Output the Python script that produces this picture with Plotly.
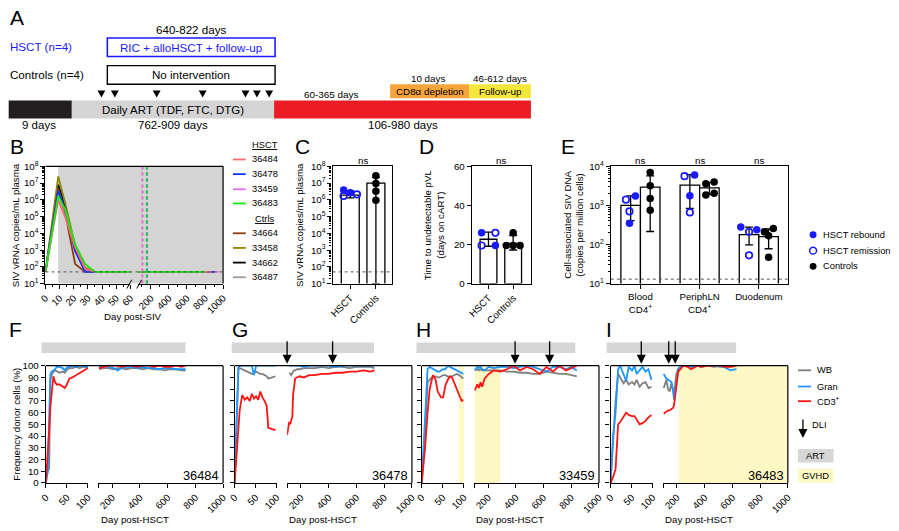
import plotly.graph_objects as go

W, H = 899, 531
FONT = "Arial, 'Liberation Sans', Helvetica, sans-serif"
BLUE = "#1a1aff"
WB_C, GRAN_C, CD3_C = "#7f7f7f", "#1e96ff", "#ff1414"
ART_GRAY = "#d6d6d6"
GVHD_YEL = "#fdf8c4"
FS = 9.7      # tick labels / axis titles
FS_LEG = 9.3  # legend texts

# ── B: plasma viral load per animal ──────────────────────────────────────────
B_IDS = ["36484", "36478", "33459", "36483", "34664", "33458", "34662", "36487"]
B_COLORS = ["#ff6b6b", "#1433ff", "#e26cf4", "#19e619", "#8a3c0c", "#8d8600", "#000000", "#9c9c9c"]
B_DAYS = [0, 9, 14, 21, 28, 35, 60]
VL_36484 = [50, 1.0e6, 9.0e4, 1500, 80, 50, 50]
VL_36478 = [50, 3.5e6, 2.5e5, 900, 50, 50, 50]
VL_33459 = [50, 2.5e6, 2.0e5, 1200, 60, 50, 50]
VL_36483 = [50, 1.8e6, 2.5e5, 2200, 150, 50, 50]
VL_34664 = [50, 5.0e6, 1.5e5, 150, 50, 50, 50]
VL_33458 = [50, 2.5e7, 6.0e5, 1800, 90, 50, 50]
VL_34662 = [50, 8.0e6, 4.0e5, 1300, 70, 50, 50]
VL_36487 = [50, 3.0e6, 2.0e5, 800, 60, 50, 50]
B_LAST_DAY = [870, 900, 950, 800, 760, 780, 790, 770]
B_LOD = 50
B_HSCT_DAY = [105, 156, 108, 152]

# ── C: peak viral load ───────────────────────────────────────────────────────
GROUPS = ["HSCT", "Controls"]
C_MEAN = [1.9e6, 1.0e7]
C_HI = [3.4e6, 2.2e7]
C_LO = [1.3e6, 10]
C_HSCT = [3.8e6, 2.65e6, 1.7e6, 2.1e6]
C_HSCT_REBOUND = [1, 1, 0, 0]
C_HSCT_JIT = [-0.26, 0.0, -0.26, 0.26]
C_CTRL = [2.7e7, 9.5e6, 3.3e6, 9.5e5]

# ── D: time to undetectable ──────────────────────────────────────────────────
D_MEAN = [22.7, 20.6]
D_HI = [26.3, 24.6]
D_LO = [19.1, 17.2]
D_HSCT = [26, 26, 19.5, 19.5]
D_HSCT_REBOUND = [1, 0, 0, 1]
D_HSCT_JIT = [-0.28, 0.28, -0.28, 0.28]
D_CTRL = [26, 19.5, 19.5, 19.5]
D_CTRL_JIT = [0.0, -0.28, 0.0, 0.28]

# ── E: cell-associated SIV DNA ───────────────────────────────────────────────
E_CATS = ["Blood<br>CD4<sup>+</sup>", "PeriphLN<br>CD4<sup>+</sup>", "Duodenum"]
E_HSCT_MEAN = [1000, 3300, 180]
E_HSCT_HI = [1750, 6100, 280]
E_HSCT_LO = [410, 840, 98]
E_CTRL_MEAN = [2950, 2800, 160]
E_CTRL_HI = [5700, 3900, 250]
E_CTRL_LO = [215, 1900, 78]
E_HSCT_CAT = [0, 0, 0, 0, 1, 1, 1, 1, 2, 2, 2, 2]
E_HSCT_VAL = [1750, 1400, 700, 350, 6000, 5600, 1780, 660, 282, 211, 237, 53]
E_HSCT_REBOUND = [1, 0, 0, 1, 1, 0, 1, 0, 1, 0, 1, 0]
E_HSCT_JIT = [0.08, -0.08, -0.02, -0.02, 0.08, -0.09, 0.0, 0.0, -0.14, 0.0, 0.13, 0.0]
E_CTRL_CAT = [0, 0, 0, 0, 1, 1, 1, 1, 2, 2, 2, 2]
E_CTRL_VAL = [7000, 3200, 1500, 750, 3600, 4000, 1850, 2050, 211, 256, 168, 47]
E_CTRL_JIT = [0, 0, 0, 0, -0.06, 0.08, -0.06, 0.08, -0.07, 0.08, 0, 0]
E_LOD = 13

# ── F–I: donor chimerism ─────────────────────────────────────────────────────
F_D1 = [0, 5, 8, 11, 14, 18, 22, 26, 33, 40, 45, 49, 56, 63, 72, 80, 88, 95, 100]
F_WB1 = [0, 12, 12, 88, 92, 95, 96, 95, 94, 95, 94, 96, 98, 98, 99, 98, 99, 99, 98]
F_GR1 = [0, 10, 55, 93, 95, 96, 97, 99, 99, 98, 96, 98, 99, 100, 99, 100, 100, 99, 99]
F_CD1 = [0, 25, 45, 65, 80, 91, 86, 84, 84, 82, 81, 83, 89, 90, 92, 94, 96, 97, 98]
F_D2 = [105, 140, 175, 210, 240, 270, 300, 340, 380, 420, 460, 500, 540, 580, 620, 660, 700, 730]
F_WB2 = [97, 98, 98, 97, 98, 98, 97, 98, 98, 97, 98, 97, 97, 96, 97, 97, 96, 96]
F_GR2 = [99, 100, 99, 98, 96, 98, 99, 99, 98, 99, 98, 98, 97, 98, 98, 97, 97, 97]
F_CD2 = [98, 99, 100, 100, 100, 99, 100, 100, 99, 100, 100, 99, 100, 99, 99, 100, 99, 100]

G_D1 = [0, 6, 9, 12, 18, 24, 30, 36, 41, 46, 51, 56, 61, 66, 71, 76, 80, 88, 97]
G_WB1 = [0, 60, 97, 98, 97, 96, 95, 94, 93, 94, 95, 94, 93, 93, 92, 91, 89, 90, 91]
G_GR1 = [0, 70, 99, 100, 100, 100, 100, 100, 100, 92, 100, 100, 100, 100, 100, 100, 100, 100, 100]
G_CD1 = [0, 30, 50, 62, 75, 71, 73, 70, 76, 72, 74, 71, 78, 73, 70, 66, 47, 46, 45]
G_D2 = [100, 108, 115, 122, 130, 138, 143, 150, 158, 170, 190, 220, 260, 300, 350, 400, 450, 500, 550, 600, 650, 700, 730]
G_WB2 = [None, None, 94, 93, 92, 94, 95, 96, 96, 97, 97, 98, 98, 98, 99, 98, 99, 99, 98, 99, 99, 99, 98]
G_GR2 = [None, None, 100, 100, 100, 100, 100, 100, 100, 100, 100, 99, 100, 100, 100, 100, 99, 100, 100, 100, 100, 100, 100]
G_CD2 = [41, 48, 52, 50, 55, 57, 75, 81, 89, 90, 91, 90, 92, 92, 93, 93, 94, 94, 95, 95, 96, 95, 96]

H_D1 = [0, 8, 14, 19, 24, 27, 30, 33, 38, 42, 46, 51, 56, 62, 67, 72, 77, 83, 89, 95, 99]
H_WB1 = [0, 40, 86, 88, 90, 90, 90, 91, 90, 90, 91, 92, 92, 91, 90, 91, 92, 93, 92, 90, 89]
H_GR1 = [0, 60, 97, 99, 98, 97, 97, 96, 95, 95, 96, 97, 97, 100, 99, 98, 97, 96, 95, 94, 93]
H_CD1 = [0, 30, 60, 80, 88, 92, 90, 88, 78, 75, 73, 73, 83, 88, 91, 90, 86, 80, 75, 70, 71]
H_D2 = [104, 123, 134, 146, 158, 175, 205, 241, 288, 336, 383, 431, 478, 525, 573, 621, 668, 715, 763, 800, 840]
H_WB2 = [96, 97, 96, 97, 96, 96, 96, 96, 96, 95, 95, 94, 94, 93, 93, 95, 94, 93, 93, 92, 91]
H_GR2 = [96, 99, 98, 99, 97, 96, 99, 98, 99, 99, 98, 99, 100, 99, 97, 95, 99, 99, 97, 99, 96]
H_CD2 = [79, 84, 81, 86, 82, 89, 93, 96, 95, 97, 100, 96, 99, 97, 93, 99, 95, 100, 96, 98, 100]

I_D1 = [0, 6, 12, 18, 23, 31, 37, 43, 51, 57, 62, 69, 76, 83, 90, 97]
I_WB1 = [0, 40, 70, 93, 90, 85, 88, 84, 86, 84, 88, 82, 85, 86, 81, 82]
I_GR1 = [0, 40, 60, 97, 100, 93, 87, 99, 96, 100, 93, 96, 99, 95, 97, 88]
I_CD1 = [0, 5, 12, 50, 52, 57, 60, 58, 57, 57, 54, 50, 51, 53, 56, 58]
I_D2 = [105, 124, 136, 148, 160, 172, 179, 184, 191, 195, 207, 214, 226, 245, 278, 302, 349, 373, 420, 468, 515, 539, 586, 629]
I_WB2 = [81, 88, 80, 78, 85, 80, 75, 80, 89, 92, 97, 97, 99, 100, 100, 99, 100, 99, 100, 99, 100, 100, 99, 100]
I_GR2 = [93, 89, 88, 87, 86, 80, 71, 75, 81, 85, 96, 98, 99, 100, 100, 99, 100, 99, 100, 100, 99, 99, 96, 97]
I_CD2 = [59, 61, 62, 62, 63, 64, 66, 70, 78, 81, 93, 96, 97, 100, 99, 97, 100, 99, 100, 100, 100, 99, 99, 100]

PANEL_IDS = ["36484", "36478", "33459", "36483"]
DLI_EARLY = [[], [], [], [73]]
DLI_LATE = [[], [100, 428], [395, 644], [141, 188]]
GVHD_EARLY = [None, None, (88, 100), None]
GVHD_LATE = [None, None, (105, 290), (214, 1000)]

# layout of the small-multiples (pixels in the target picture)
PANEL_LEFT = [39.3, 230.7, 420.3, 611.7]
ART_X = [(35, 181), (227.7, 372), (415, 576), (607.7, 739)]


def px(x):
    return x / W


def py(y):
    return 1 - y / H


def axis(x_or_y, a, b, anchor, **kw):
    dom = [px(a), px(b)] if x_or_y == "x" else [py(b), py(a)]
    d = dict(domain=dom, anchor=anchor, showline=True, linecolor="black", linewidth=1.2,
             ticks="outside", ticklen=4, tickwidth=1.1, tickcolor="black",
             showgrid=False, zeroline=False, fixedrange=True,
             tickfont=dict(family=FONT, size=FS, color="black"))
    d.update(kw)
    return d


def log_minor(lo, hi):
    return dict(tickvals=[k * 10 ** e for e in range(lo, hi) for k in range(2, 10)],
                ticks="outside", ticklen=2.2, tickwidth=0.8, tickcolor="black")


def log_ticks(lo, hi):
    return dict(type="log", range=[lo, hi], tickvals=[10 ** e for e in range(lo, hi + 1)],
                ticktext=[f"10<sup>{e}</sup>" for e in range(lo, hi + 1)], minor=log_minor(lo, hi))


annotations = []
shapes = []


def txt(x, y, s, size=FS, anchor="center", color="black", angle=0):
    annotations.append(dict(x=px(x), y=py(y), xref="paper", yref="paper", text=s, showarrow=False,
                            xanchor=anchor, yanchor="middle", textangle=angle, borderpad=0,
                            font=dict(family=FONT, size=size, color=color)))


def rect(x0, y0, x1, y1, fill, line="rgba(0,0,0,0)", lw=0, layer="above"):
    shapes.append(dict(type="rect", xref="paper", yref="paper", x0=px(x0), x1=px(x1),
                       y0=py(y1), y1=py(y0), fillcolor=fill, line=dict(color=line, width=lw), layer=layer))


def seg(x0, y0, x1, y1, color="black", w=1.2, dash="solid"):
    shapes.append(dict(type="line", xref="paper", yref="paper", x0=px(x0), x1=px(x1),
                       y0=py(y0), y1=py(y1), line=dict(color=color, width=w, dash=dash)))


fig = go.Figure()
layout = {}

# ── A: timeline schematic ────────────────────────────────────────────────────
txt(10.5, 11, "A", 21)
txt(186.7, 23.3, "640-822 days", 11.6)
txt(2.5, 40.7, "HSCT (n=4)", 11.6, "left", BLUE)
rect(101.7, 31.7, 271.7, 50.7, "white", BLUE, 1.6)
txt(186.7, 41.2, "RIC + alloHSCT + follow-up", 11.6, color=BLUE)
txt(2.5, 69, "Controls (n=4)", 11.6, "left")
rect(101.7, 60, 271.7, 79, "white", "black", 1.4)
txt(186.7, 69.5, "No intervention", 11.6)
for tx in [95.7, 109.3, 151.7, 198.3, 241.7, 253.3, 265.7]:
    shapes.append(dict(type="path", xref="paper", yref="paper",
                       path=f"M {px(tx - 4)} {py(85.5)} L {px(tx + 4)} {py(85.5)} L {px(tx)} {py(92.5)} Z",
                       fillcolor="black", line=dict(width=0)))
rect(1.7, 95.7, 65.7, 114, "#231f20")
rect(65.7, 95.7, 270.7, 114, "#d4d4d4")
rect(270.7, 95.7, 531, 114, "#ec1c24")
rect(388.3, 79, 468.3, 93.3, "#f7a43d")
rect(468.3, 79, 531, 93.3, "#f4e63a")
txt(168.3, 104.9, "Daily ART (TDF, FTC, DTG)", 11.5)
txt(32.3, 121, "9 days", 11.5)
txt(168.3, 121, "762-909 days", 11.5)
txt(401.7, 121, "106-980 days", 11.5)
txt(328.3, 89.5, "60-365 days", 9.9)
txt(426.7, 72.7, "10 days", 9.8)
txt(428.3, 86.3, "CD8α depletion", 9.8)
txt(500, 72.7, "46-612 days", 9.8)
txt(500, 86.3, "Follow-up", 9.8)

# ── B ────────────────────────────────────────────────────────────────────────
layout["xaxis"] = axis("x", 39, 125, "y", range=[0, 60], tickvals=list(range(0, 61, 10)), tickangle=-45,
                       minor=dict(tickvals=list(range(5, 60, 10)), ticks="outside", ticklen=2.5, tickcolor="black"))
layout["xaxis2"] = axis("x", 133, 219, "y", range=[60, 1000], tickvals=[200, 400, 600, 800, 1000], tickangle=-45,
                        minor=dict(tickvals=[100, 300, 500, 700, 900], ticks="outside", ticklen=2.5, tickcolor="black"))
layout["yaxis"] = axis("y", 163, 283, "x", **log_ticks(1, 8))

shapes.append(dict(type="rect", xref="x", yref="y domain", x0=9, x1=60, y0=0, y1=1,
                   fillcolor="#d4d4d4", line=dict(width=0), layer="below"))
shapes.append(dict(type="rect", xref="x2 domain", yref="y domain", x0=-0.1, x1=1, y0=0, y1=1,
                   fillcolor="#d4d4d4", line=dict(width=0), layer="below"))
shapes.append(dict(type="line", xref="paper", yref="y", x0=px(39), x1=px(219), y0=B_LOD, y1=B_LOD,
                   line=dict(color="#555", width=1, dash="dot")))
for day, col in zip(B_HSCT_DAY, B_COLORS[:4]):
    shapes.append(dict(type="line", xref="x2", yref="y domain", x0=day, x1=day, y0=0, y1=1,
                       line=dict(color=col, width=1.6, dash="dot")))

b_series = [VL_36484, VL_36478, VL_33459, VL_36483, VL_34664, VL_33458, VL_34662, VL_36487]
for i in [7, 6, 5, 4, 2, 1, 0, 3]:
    fig.add_trace(go.Scatter(x=B_DAYS, y=b_series[i], mode="lines", xaxis="x", yaxis="y",
                             line=dict(color=B_COLORS[i], width=1.8), hoverinfo="skip", cliponaxis=False))
    fig.add_trace(go.Scatter(x=[60, B_LAST_DAY[i]], y=[B_LOD, B_LOD], mode="lines", xaxis="x2", yaxis="y",
                             line=dict(color=B_COLORS[i], width=1.8), hoverinfo="skip", cliponaxis=False))
seg(39, 163, 219, 163)
seg(219, 163, 219, 283)
seg(121.5, 288, 126.5, 279, w=1)
seg(131.5, 288, 136.5, 279, w=1)
txt(10.5, 143, "B", 21)
txt(9.5, 223, "SIV vRNA copies/mL plasma", FS, angle=-90)
txt(128, 317, "Day post-SIV", FS)
txt(261, 141.5, "<u>HSCT</u>", FS_LEG)
txt(261, 216.5, "<u>Ctrls</u>", FS_LEG)
for i, yy in enumerate([156, 171, 186.5, 201, 231.5, 246.5, 261.5, 276.5]):
    seg(229, yy, 242, yy, B_COLORS[i], 1.8)
    txt(247.5, yy, B_IDS[i], FS_LEG, "left")

# ── C ────────────────────────────────────────────────────────────────────────
layout["xaxis3"] = axis("x", 330, 390, "y2", range=[-0.69, 1.62], tickvals=[0, 1], ticktext=GROUPS,
                        tickangle=-45, mirror=True)
layout["yaxis2"] = axis("y", 163, 283, "x3", mirror=True, **log_ticks(1, 8))


def bars(xs, means, hi, lo, width, xa, ya):
    return go.Bar(x=xs, y=means, width=width, xaxis=xa, yaxis=ya, hoverinfo="skip",
                  marker=dict(color="white", line=dict(color="black", width=1.3)),
                  error_y=dict(type="data", symmetric=False,
                               array=[h - m for h, m in zip(hi, means)],
                               arrayminus=[m - l for m, l in zip(means, lo)],
                               color="black", thickness=1.3, width=4))


def dots(xs, ys, color, hollow, xa, ya):
    return go.Scatter(x=xs, y=ys, mode="markers", xaxis=xa, yaxis=ya, hoverinfo="skip", cliponaxis=False,
                      marker=dict(size=7.5 if not hollow else 6.5, color=color,
                                  symbol="circle-open" if hollow else "circle",
                                  line=dict(width=1.7 if hollow else 0, color=color)))


def ns(x, xref):
    annotations.append(dict(x=x, y=py(157), xref=xref, yref="paper", text="ns", showarrow=False,
                            yanchor="middle", font=dict(family=FONT, size=FS)))


fig.add_trace(bars([0, 1], C_MEAN, C_HI, C_LO, 0.7, "x3", "y2"))
fig.add_trace(dots([j for j, r in zip(C_HSCT_JIT, C_HSCT_REBOUND) if r],
                   [v for v, r in zip(C_HSCT, C_HSCT_REBOUND) if r], BLUE, False, "x3", "y2"))
fig.add_trace(dots([j for j, r in zip(C_HSCT_JIT, C_HSCT_REBOUND) if not r],
                   [v for v, r in zip(C_HSCT, C_HSCT_REBOUND) if not r], BLUE, True, "x3", "y2"))
fig.add_trace(dots([1] * len(C_CTRL), C_CTRL, "black", False, "x3", "y2"))
shapes.append(dict(type="line", xref="x3 domain", yref="y2", x0=0, x1=1, y0=B_LOD, y1=B_LOD,
                   line=dict(color="#555", width=1, dash="dot")))
txt(300, 143, "C", 21)
txt(297, 223, "SIV vRNA copies/mL plasma", FS, angle=-90)
ns(0.5, "x3")

# ── D ────────────────────────────────────────────────────────────────────────
layout["xaxis4"] = axis("x", 471, 531, "y3", range=[-0.68, 1.72], tickvals=[0, 1], ticktext=GROUPS,
                        tickangle=-45, mirror=True)
layout["yaxis3"] = axis("y", 163, 283, "x4", range=[0, 60], tickvals=[0, 20, 40, 60], mirror=True)
fig.add_trace(bars([0, 1], D_MEAN, D_HI, D_LO, 0.68, "x4", "y3"))
fig.add_trace(dots([j for j, r in zip(D_HSCT_JIT, D_HSCT_REBOUND) if r],
                   [v for v, r in zip(D_HSCT, D_HSCT_REBOUND) if r], BLUE, False, "x4", "y3"))
fig.add_trace(dots([j for j, r in zip(D_HSCT_JIT, D_HSCT_REBOUND) if not r],
                   [v for v, r in zip(D_HSCT, D_HSCT_REBOUND) if not r], BLUE, True, "x4", "y3"))
fig.add_trace(dots([1 + j for j in D_CTRL_JIT], D_CTRL, "black", False, "x4", "y3"))
txt(425, 143, "D", 21)
txt(433, 223, "Time to undetectable pVL<br>(days on cART)", FS, angle=-90)
ns(0.5, "x4")

# ── E ────────────────────────────────────────────────────────────────────────
layout["xaxis5"] = axis("x", 612, 792, "y4", range=[-0.5, 2.5], tickvals=[0, 1, 2], ticktext=E_CATS,
                        tickangle=0, mirror=True)
layout["yaxis4"] = axis("y", 163, 283, "x5", mirror=True, **log_ticks(1, 4))
E_POS = [0, 1, 2]
fig.add_trace(bars([p - 0.165 for p in E_POS], E_HSCT_MEAN, E_HSCT_HI, E_HSCT_LO, 0.33, "x5", "y4"))
fig.add_trace(bars([p + 0.165 for p in E_POS], E_CTRL_MEAN, E_CTRL_HI, E_CTRL_LO, 0.33, "x5", "y4"))
hx = [E_POS[c] - 0.165 + j for c, j in zip(E_HSCT_CAT, E_HSCT_JIT)]
fig.add_trace(dots([x for x, r in zip(hx, E_HSCT_REBOUND) if r],
                   [v for v, r in zip(E_HSCT_VAL, E_HSCT_REBOUND) if r], BLUE, False, "x5", "y4"))
fig.add_trace(dots([x for x, r in zip(hx, E_HSCT_REBOUND) if not r],
                   [v for v, r in zip(E_HSCT_VAL, E_HSCT_REBOUND) if not r], BLUE, True, "x5", "y4"))
fig.add_trace(dots([E_POS[c] + 0.165 + j for c, j in zip(E_CTRL_CAT, E_CTRL_JIT)], E_CTRL_VAL,
                   "black", False, "x5", "y4"))
shapes.append(dict(type="line", xref="x5 domain", yref="y4", x0=0, x1=1, y0=E_LOD, y1=E_LOD,
                   line=dict(color="#555", width=1, dash="dot")))
for p in E_POS:
    ns(p, "x5")
txt(569, 143, "E", 21)
txt(574.5, 223, "Cell-associated SIV DNA<br>(copies per million cells)", FS, angle=-90)
for yy, col, hollow, lab in [(233, BLUE, False, "HSCT rebound"), (249.3, BLUE, True, "HSCT remission"),
                             (265.3, "black", False, "Controls")]:
    shapes.append(dict(type="circle", xref="paper", yref="paper", x0=px(813.5), x1=px(820.5),
                       y0=py(yy + 3.5), y1=py(yy - 3.5),
                       fillcolor="white" if hollow else col, line=dict(color=col, width=1.5 if hollow else 0)))
    txt(826, yy, lab, FS_LEG, "left")

# ── F–I: donor chimerism panels ──────────────────────────────────────────────
early = [(F_D1, F_WB1, F_GR1, F_CD1), (G_D1, G_WB1, G_GR1, G_CD1),
         (H_D1, H_WB1, H_GR1, H_CD1), (I_D1, I_WB1, I_GR1, I_CD1)]
late = [(F_D2, F_WB2, F_GR2, F_CD2), (G_D2, G_WB2, G_GR2, G_CD2),
        (H_D2, H_WB2, H_GR2, H_CD2), (I_D2, I_WB2, I_GR2, I_CD2)]
for p in range(4):
    L = PANEL_LEFT[p]
    xa1, xa2, ya = f"x{6 + 2 * p}", f"x{7 + 2 * p}", f"y{5 + p}"
    layout[f"xaxis{6 + 2 * p}"] = axis("x", L, L + 42.7, ya, range=[0, 100], tickvals=[0, 50, 100],
                                       tickangle=-45)
    layout[f"xaxis{7 + 2 * p}"] = axis("x", L + 53.2, L + 179.7, ya, range=[100, 1000],
                                       tickvals=[100, 200, 400, 600, 800, 1000],
                                       ticktext=["", "200", "400", "600", "800", "1000"], tickangle=-45)
    layout[f"yaxis{5 + p}"] = axis("y", 367, 487, xa1, range=[0, 100], dtick=10, showticklabels=(p == 0))

    if GVHD_EARLY[p]:
        shapes.append(dict(type="rect", xref=xa1, yref=f"{ya} domain", x0=GVHD_EARLY[p][0], x1=GVHD_EARLY[p][1],
                           y0=0, y1=1, fillcolor=GVHD_YEL, line=dict(width=0), layer="below"))
    if GVHD_LATE[p]:
        shapes.append(dict(type="rect", xref=xa2, yref=f"{ya} domain", x0=GVHD_LATE[p][0], x1=GVHD_LATE[p][1],
                           y0=0, y1=1, fillcolor=GVHD_YEL, line=dict(width=0), layer="below"))

    for (days, wb, gr, cd), xa in [(early[p], xa1), (late[p], xa2)]:
        for vals, col in [(wb, WB_C), (gr, GRAN_C), (cd, CD3_C)]:
            fig.add_trace(go.Scatter(x=days, y=vals, mode="lines", xaxis=xa, yaxis=ya, connectgaps=False,
                                     line=dict(color=col, width=1.8), hoverinfo="skip", cliponaxis=False))

    rect(ART_X[p][0], 343.3, ART_X[p][1], 354, ART_GRAY)
    seg(L, 367, L + 179.7, 367)
    seg(L + 179.7, 367, L + 179.7, 487)
    for d in DLI_EARLY[p]:
        annotations.append(dict(x=d, y=py(365), xref=xa1, yref="paper", ax=0, ay=-24, text="",
                                showarrow=True, arrowhead=2, arrowsize=1.4, arrowwidth=1.3, arrowcolor="black"))
    for d in DLI_LATE[p]:
        annotations.append(dict(x=d, y=py(365), xref=xa2, yref="paper", ax=0, ay=-24, text="",
                                showarrow=True, arrowhead=2, arrowsize=1.4, arrowwidth=1.3, arrowcolor="black"))
    annotations.append(dict(x=px(L + 178), y=py(479), xref="paper", yref="paper", text=PANEL_IDS[p],
                            showarrow=False, xanchor="right", yanchor="middle",
                            font=dict(family=FONT, size=12.8, color="black")))
    txt(L + 90, 524, "Day post-HSCT", FS)

txt(9, 330, "F", 21)
txt(236.5, 330, "G", 21)
txt(422.5, 330, "H", 21)
txt(610, 330, "I", 21)
txt(9.5, 427, "Frequency donor cells (%)", FS, angle=-90)

# legend for F–I
for yy, col, lab in [(371.7, WB_C, "WB"), (388.3, GRAN_C, "Gran"), (403.3, CD3_C, "CD3<sup>+</sup>")]:
    seg(801.7, yy, 815, yy, col, 1.8)
    txt(819.5, yy, lab, FS_LEG, "left")
annotations.append(dict(x=px(806.7), y=py(441), xref="paper", yref="paper", ax=0, ay=-20, text="",
                        showarrow=True, arrowhead=2, arrowsize=1.4, arrowwidth=1.3, arrowcolor="black"))
txt(815, 427.5, "DLI", FS_LEG, "left")
rect(801.7, 452.3, 837.7, 466, ART_GRAY)
txt(819.7, 459.2, "ART", FS_LEG)
rect(801.7, 472.3, 837.7, 486.7, GVHD_YEL)
txt(819.7, 479.5, "GVHD", FS_LEG)

fig.update_layout(
    width=W, height=H, autosize=False,
    margin=dict(l=0, r=0, t=0, b=0),
    paper_bgcolor="white", plot_bgcolor="white",
    showlegend=False, barmode="overlay",
    font=dict(family=FONT, size=FS, color="black"),
    annotations=annotations, shapes=shapes,
    **layout,
)

fig.write_html("out.html", config={"displayModeBar": False},
               post_script="document.body.style.margin='0';")
